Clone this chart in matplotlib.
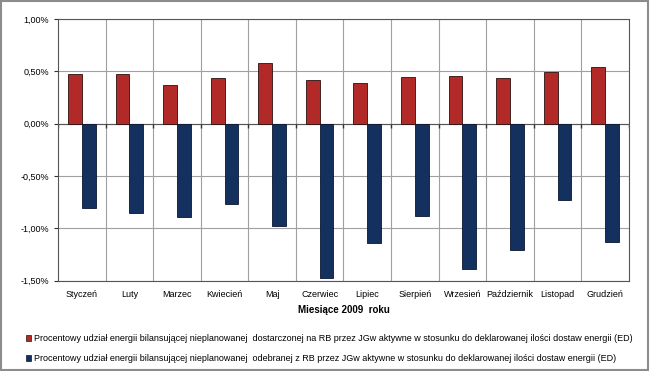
import numpy as np
import matplotlib.pyplot as plt
from matplotlib.patches import Rectangle, Patch
from matplotlib.ticker import FuncFormatter

plt.rcParams['font.family'] = ['Liberation Sans', 'DejaVu Sans']

# dane (procenty)
miesiace = ['Styczeń', 'Luty', 'Marzec', 'Kwiecień', 'Maj', 'Czerwiec',
            'Lipiec', 'Sierpień', 'Wrzesień', 'Październik', 'Listopad', 'Grudzień']
dostarczona = [0.476, 0.476, 0.365, 0.438, 0.578, 0.413,
               0.387, 0.444, 0.457, 0.438, 0.495, 0.540]
odebrana = [-0.810, -0.850, -0.895, -0.765, -0.978, -1.473,
            -1.146, -0.883, -1.394, -1.213, -0.733, -1.136]
etykiety = [
    'Procentowy udział energii bilansującej nieplanowanej  dostarczonej na RB przez JGw aktywne w stosunku do deklarowanej ilości dostaw energii (ED)',
    'Procentowy udział energii bilansującej nieplanowanej  odebranej z RB przez JGw aktywne w stosunku do deklarowanej ilości dostaw energii (ED)',
]
czerwony = '#B22A27'
granat = '#14305E'

fig = plt.figure(figsize=(6.5, 3.71), dpi=100)
fig.patches.append(Rectangle((0.002, 0.003), 0.995, 0.993, transform=fig.transFigure,
                             fill=False, edgecolor='#8c8c8c', linewidth=1.5))
ax = fig.add_axes([0.0892, 0.2439, 0.8785, 0.7049])

x = np.arange(len(miesiace))
w = 0.29
ax.bar(x - w / 2, dostarczona, w, color=czerwony, edgecolor='#2a1010', linewidth=0.6, zorder=3)
ax.bar(x + w / 2, odebrana, w, color=granat, edgecolor='#0a1530', linewidth=0.6, zorder=3)

ax.set_xlim(-0.5, len(miesiace) - 0.5)
ax.set_ylim(-1.5, 1.0)
ax.set_yticks(np.arange(-1.5, 1.01, 0.5))
ax.yaxis.set_major_formatter(FuncFormatter(lambda v, p: f'{v:.2f}%'.replace('.', ',')))
ax.set_xticks(x)
ax.set_xticklabels(miesiace)
ax.tick_params(axis='x', length=0, labelsize=6.5, pad=7)
ax.tick_params(axis='y', length=3, labelsize=6.5, color='#333333')

ax.grid(axis='y', color='#a0a0a0', linewidth=0.8, zorder=0)
for b in np.arange(0.5, len(miesiace) - 1, 1.0):
    ax.axvline(b, color='#a0a0a0', linewidth=0.8, zorder=0)
ax.axhline(0, color='#555555', linewidth=0.8, zorder=2)
# krotkie kreski podzialki pod osia zero
ax.plot(np.arange(-0.5, len(miesiace), 1.0), np.full(len(miesiace) + 1, -0.02), linestyle='none',
        marker='|', markersize=3, color='#333333', zorder=2)
for s in ax.spines.values():
    s.set_color('#555555')
    s.set_linewidth(0.8)

ax.set_xlabel('Miesiące 2009  roku', fontsize=7, fontweight='bold', labelpad=4)

uchwyty = [Patch(facecolor=czerwony, edgecolor='#2a1010', linewidth=0.5),
           Patch(facecolor=granat, edgecolor='#0a1530', linewidth=0.5)]
fig.legend(uchwyty, etykiety, loc='upper left', bbox_to_anchor=(0.04, 0.1),
           frameon=False, fontsize=6.5, handlelength=0.6, handleheight=0.6,
           handletextpad=0.3, labelspacing=1.25, borderaxespad=0, borderpad=0)

fig.savefig('out.png', dpi=100)
